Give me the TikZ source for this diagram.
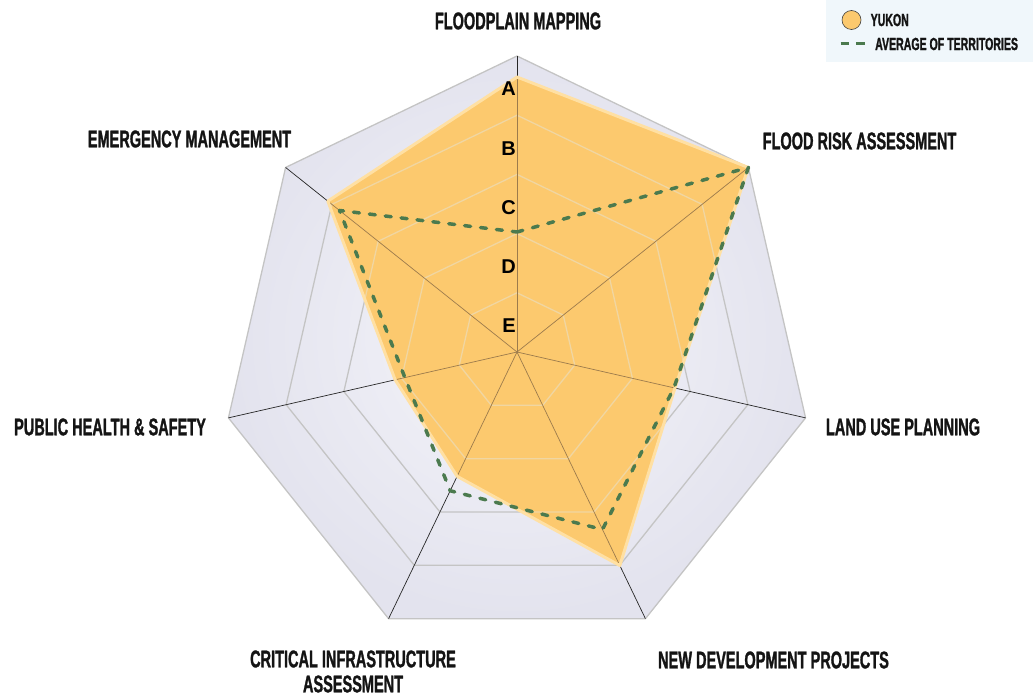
\documentclass[tikz,border=0pt]{standalone}
\usepackage{fontspec}
\setmainfont{Liberation Sans}
\newfontfamily\condfont{Liberation Sans}[FakeStretch=0.6, BoldFeatures={FakeBold=1.2}]
\usetikzlibrary{calc}
\definecolor{gridgray}{HTML}{C4C4C4}
\definecolor{bginner}{HTML}{F5F5FA}
\definecolor{bgouter}{HTML}{E3E3EE}
\definecolor{yukonfill}{HTML}{FCC96E}
\definecolor{yukonedge}{HTML}{FFE0A3}
\definecolor{ringcream}{HTML}{F0D6A2}
\definecolor{spokebrown}{HTML}{9C7B4C}
\definecolor{avggreen}{HTML}{4B7A4E}
\definecolor{legendbg}{HTML}{F0F7FB}
\tikzset{
  ring/.style={draw=gridgray, line width=1.3pt, line join=round},
  spoke/.style={draw=black!85, line width=0.7pt},
  catlabel/.style={inner sep=0pt, font=\condfont\bfseries\fontsize{24.2}{26}\selectfont, text=black!92},
  legtext/.style={inner sep=0pt, anchor=west, font=\condfont\bfseries\fontsize{17.6}{19}\selectfont, text=black!92},
  ticklabel/.style={inner sep=0pt, anchor=east, font=\bfseries\fontsize{20}{22}\selectfont},
  avgline/.style={draw=avggreen, line width=3.5pt, line cap=round, line join=round, dash pattern=on 6pt off 10pt},
}
\begin{document}
\begin{tikzpicture}[x=1pt,y=-1pt]
\useasboundingbox (0,0) rectangle (1033,698);
\coordinate (c) at (517,352);
\foreach \k in {0,...,6}{
  \coordinate (o\k) at ($(c)+({-90+\k*360/7}:296)$);
}
% background
\shade[inner color=bginner, outer color=bgouter]
  (o0) -- (o1) -- (o2) -- (o3) -- (o4) -- (o5) -- (o6) -- cycle;
% rings
\foreach \r in {59.2,118.4,177.6,236.8,296}{
  \draw[ring] ($(c)+(-90:\r)$) \foreach \k in {1,...,6}{ -- ($(c)+({-90+\k*360/7}:\r)$) } -- cycle;
}
% spokes
\foreach \k in {0,...,6}{ \draw[spoke] (c) -- (o\k); }
% Yukon data
\coordinate (y0) at ($(c)+(-90:275)$);
\coordinate (y1) at ($(c)+({-90+1*360/7}:296)$);
\coordinate (y2) at ($(c)+({-90+2*360/7}:162)$);
\coordinate (y3) at ($(c)+({-90+3*360/7}:237)$);
\coordinate (y4) at ($(c)+({-90+4*360/7}:138)$);
\coordinate (y5) at ($(c)+({-90+5*360/7}:125)$);
\coordinate (y6) at ($(c)+({-90+6*360/7}:242)$);
\fill[yukonfill] (y0) -- (y1) -- (y2) -- (y3) -- (y4) -- (y5) -- (y6) -- cycle;
\begin{scope}
  \clip (y0) -- (y1) -- (y2) -- (y3) -- (y4) -- (y5) -- (y6) -- cycle;
  \foreach \r in {59.2,118.4,177.6,236.8,296}{
    \draw[draw=ringcream, line width=1.3pt] ($(c)+(-90:\r)$) \foreach \k in {1,...,6}{ -- ($(c)+({-90+\k*360/7}:\r)$) } -- cycle;
  }
  \foreach \k in {0,...,6}{ \draw[draw=spokebrown, line width=0.7pt] (c) -- (o\k); }
\end{scope}
\draw[yukonedge, line width=3pt, line join=round] (y0) -- (y1) -- (y2) -- (y3) -- (y4) -- (y5) -- (y6) -- cycle;
% average
\coordinate (a0) at ($(c)+(-90:120)$);
\coordinate (a1) at ($(c)+({-90+1*360/7}:296)$);
\coordinate (a2) at ($(c)+({-90+2*360/7}:161)$);
\coordinate (a3) at ($(c)+({-90+3*360/7}:197)$);
\coordinate (a4) at ($(c)+({-90+4*360/7}:154)$);
\coordinate (a5) at ($(c)+({-90+5*360/7}:115)$);
\coordinate (a6) at ($(c)+({-90+6*360/7}:227)$);
\draw[avgline] (a0) -- (a1) -- (a2) -- (a3) -- (a4) -- (a5) -- (a6) -- cycle;
% tick labels
\node[ticklabel] (tA) at (516,89) {A};
\node[ticklabel] (tB) at (516,148.5) {B};
\node[ticklabel] (tC) at (516,208) {C};
\node[ticklabel] (tD) at (516,267) {D};
\node[ticklabel] (tE) at (516,326) {E};
% category labels
\node[catlabel] (l0) at (518,21) {FLOODPLAIN MAPPING};
\node[catlabel] (l1) at (859.5,141) {FLOOD RISK ASSESSMENT};
\node[catlabel] (l2) at (903,427) {LAND USE PLANNING};
\node[catlabel] (l3) at (773.5,660) {NEW DEVELOPMENT PROJECTS};
\node[catlabel] (l4a) at (353,659) {CRITICAL INFRASTRUCTURE};
\node[catlabel] (l4b) at (353,684) {ASSESSMENT};
\node[catlabel] (l5) at (110,427) {PUBLIC HEALTH \& SAFETY};
\node[catlabel] (l6) at (189.5,139) {EMERGENCY MANAGEMENT};
% legend
\fill[legendbg] (826,0) rectangle (1033,62);
\node[circle, draw=black!75, line width=0.6pt, fill=yukonfill, minimum size=19pt, inner sep=0pt] (legcirc) at (851.5,20) {};
\node[legtext] (legY) at (870.5,20) {YUKON};
\coordinate (ld1) at (840.7,43.5);
\coordinate (ld2) at (864.5,43.5);
\draw[draw=avggreen, line width=3.5pt, dash pattern=on 8.6pt off 6.6pt] (ld1) -- (ld2);
\node[legtext] (legA) at (875,44) {AVERAGE OF TERRITORIES};
\end{tikzpicture}
\end{document}
